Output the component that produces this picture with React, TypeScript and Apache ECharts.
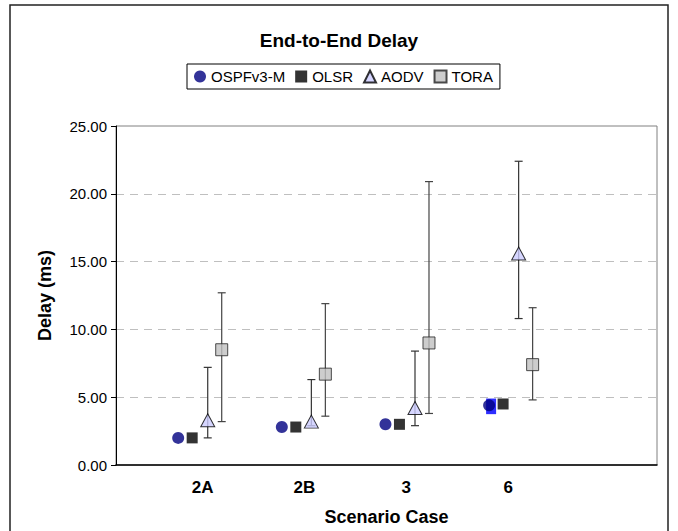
import React, { useEffect, useRef } from 'react';
import * as echarts from 'echarts';

const categories = ['2A', '2B', '3', '6'];
const seriesNames = ['OSPFv3-M', 'OLSR', 'AODV', 'TORA'];

const ospfValues = [2.0, 2.8, 3.0, 4.4];
const ospfLow: (number | null)[] = [null, null, null, 3.75];
const ospfHigh: (number | null)[] = [null, null, null, 4.9];

const olsrValues = [2.0, 2.8, 3.0, 4.5];

const aodvValues = [3.3, 3.2, 4.2, 15.6];
const aodvLow = [2.0, 2.9, 2.9, 10.8];
const aodvHigh = [7.2, 6.3, 8.4, 22.4];

const toraValues = [8.5, 6.7, 9.0, 7.4];
const toraLow = [3.2, 3.6, 3.8, 4.8];
const toraHigh = [12.7, 11.9, 20.9, 11.6];

const yTickStep = 5;
const yMax = 25;

// layout of the hidden numeric x scale used to place marker clusters
const X_MIN = 0;
const X_MAX = 5.22;
const GROUP_START = 0.81;
const OFFSETS = [-0.21, -0.075, 0.075, 0.21];

const FONT = '"Liberation Sans", Arial, sans-serif';

const pos = (i: number, s: number) => GROUP_START + i + OFFSETS[s];

function pointData(values: number[], s: number) {
  return values.map((v, i) => [pos(i, s), v]);
}
function errData(low: (number | null)[], high: (number | null)[], s: number) {
  const out: number[][] = [];
  low.forEach((lo, i) => {
    const hi = high[i];
    if (lo != null && hi != null) out.push([pos(i, s), lo, hi]);
  });
  return out;
}

function errorBarSeries(name: string, data: number[][], color: string, lineWidth: number, capHalf: number, dx = 0) {
  return {
    name,
    type: 'custom',
    xAxisIndex: 0,
    yAxisIndex: 0,
    z: 1,
    encode: { x: 0, y: [1, 2] },
    data,
    renderItem: (params: any, api: any) => {
      const x = api.value(0);
      const lo = api.coord([x, api.value(1)]);
      const hi = api.coord([x, api.value(2)]);
      const cx = lo[0] + dx;
      const style = { stroke: color, lineWidth };
      const children: any[] = [
        { type: 'line', shape: { x1: cx, y1: lo[1], x2: cx, y2: hi[1] }, style },
      ];
      if (capHalf > 0) {
        children.push(
          { type: 'line', shape: { x1: cx - capHalf, y1: lo[1], x2: cx + capHalf, y2: lo[1] }, style },
          { type: 'line', shape: { x1: cx - capHalf, y1: hi[1], x2: cx + capHalf, y2: hi[1] }, style },
        );
      }
      return { type: 'group', children };
    },
  };
}

export default function App() {
  const ref = useRef<HTMLDivElement>(null);

  useEffect(() => {
    if (!ref.current) return;
    const chart = echarts.init(ref.current, undefined, { renderer: 'svg' });
    const option: any = {
      animation: false,
      backgroundColor: '#ffffff',
      textStyle: { fontFamily: FONT },
      title: {
        text: 'End-to-End Delay',
        left: 'center',
        top: 26,
        textStyle: { fontFamily: FONT, fontSize: 19, fontWeight: 'bold', color: '#000' },
      },
      legend: {
        data: seriesNames,
        left: 187,
        top: 64,
        orient: 'horizontal',
        borderColor: '#000',
        borderWidth: 1,
        padding: [5, 7, 5, 7],
        itemWidth: 12,
        itemHeight: 12,
        itemGap: 10,
        textStyle: { fontFamily: FONT, fontSize: 15, color: '#000' },
      },
      graphic: [
        {
          type: 'rect',
          shape: { x: 10, y: 5, width: 658, height: 540 },
          style: { fill: 'none', stroke: '#222', lineWidth: 1.5 },
          silent: true,
        },
      ],
      grid: [
        { left: 116, right: 21, top: 126, bottom: 66, show: true, borderColor: '#808080', borderWidth: 1 },
        { left: 151.6, width: 407.6, top: 126, bottom: 66, show: false },
      ],
      xAxis: [
        {
          type: 'value',
          gridIndex: 0,
          min: X_MIN,
          max: X_MAX,
          axisLine: { show: true, onZero: false, lineStyle: { color: '#000', width: 1.5 } },
          axisTick: { show: false },
          axisLabel: { show: false },
          splitLine: { show: false },
          name: 'Scenario Case',
          nameLocation: 'middle',
          nameGap: 43,
          nameTextStyle: { fontFamily: FONT, fontSize: 18, fontWeight: 'bold', color: '#000' },
        },
        {
          type: 'category',
          gridIndex: 1,
          data: categories,
          boundaryGap: true,
          axisLine: { show: false },
          axisTick: { show: false },
          axisLabel: { margin: 14, fontFamily: FONT, fontSize: 17, fontWeight: 'bold', color: '#000' },
          splitLine: { show: false },
        },
      ],
      yAxis: [
        {
          type: 'value',
          gridIndex: 0,
          min: 0,
          max: yMax,
          interval: yTickStep,
          axisLine: { show: true, lineStyle: { color: '#000', width: 1 } },
          axisTick: { show: true, length: 5, inside: false, lineStyle: { color: '#000' } },
          axisLabel: {
            margin: 9,
            fontFamily: FONT,
            fontSize: 15,
            color: '#000',
            formatter: (v: number) => v.toFixed(2),
          },
          splitLine: { show: true, lineStyle: { color: '#bfbfbf', type: [8, 6], width: 1 } },
          name: 'Delay (ms)',
          nameLocation: 'middle',
          nameRotate: 90,
          nameGap: 62,
          nameTextStyle: { fontFamily: FONT, fontSize: 18, fontWeight: 'bold', color: '#000' },
        },
        { type: 'value', gridIndex: 1, min: 0, max: yMax, show: false },
      ],
      series: [
        errorBarSeries('ospf-err', errData(ospfLow, ospfHigh, 0), '#2d2dff', 10, 0, 2),
        errorBarSeries('aodv-err', errData(aodvLow, aodvHigh, 2), '#333', 1.2, 4),
        errorBarSeries('tora-err', errData(toraLow, toraHigh, 3), '#444', 1.2, 4),
        {
          name: 'OSPFv3-M',
          type: 'scatter',
          z: 3,
          symbol: 'circle',
          symbolSize: 12,
          itemStyle: { color: '#000080' },
          data: pointData(ospfValues, 0),
        },
        {
          name: 'OLSR',
          type: 'scatter',
          z: 3,
          symbol: 'rect',
          symbolSize: 11,
          itemStyle: { color: '#000000' },
          data: pointData(olsrValues, 1),
        },
        {
          name: 'AODV',
          type: 'scatter',
          z: 3,
          symbol: 'triangle',
          symbolSize: [14, 13],
          itemStyle: { color: '#ccccff', borderColor: '#000', borderWidth: 1 },
          data: pointData(aodvValues, 2),
        },
        {
          name: 'TORA',
          type: 'scatter',
          z: 3,
          symbol: 'rect',
          symbolSize: 12,
          itemStyle: { color: '#c0c0c0', borderColor: '#222', borderWidth: 1 },
          data: pointData(toraValues, 3),
        },
      ],
    };
    chart.setOption(option);
    return () => chart.dispose();
  }, []);

  return (
    <div
      ref={ref}
      style={{ position: 'absolute', left: 0, top: 0, width: 678, height: 531 }}
    />
  );
}
